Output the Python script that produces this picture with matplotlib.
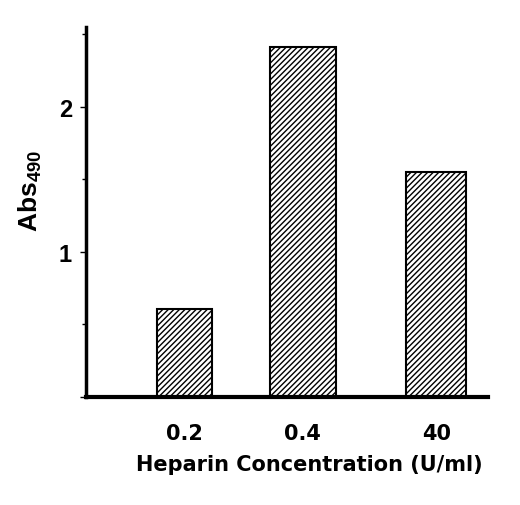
import matplotlib
matplotlib.use("Agg")
import matplotlib.pyplot as plt
from matplotlib.ticker import MultipleLocator

categories = ["0.2", "0.4", "40"]
values = [0.61, 2.41, 1.55]
y_ticks = [0, 1, 2]
y_tick_labels = ["", "1", "2"]

plt.rcParams['font.family'] = ['Liberation Sans', 'DejaVu Sans']
plt.rcParams['hatch.linewidth'] = 1.0
plt.rcParams['mathtext.fontset'] = 'custom'
plt.rcParams['mathtext.bf'] = 'Liberation Sans:bold'
plt.rcParams['mathtext.rm'] = 'Liberation Sans'

fig = plt.figure(figsize=(5.2, 5.06), dpi=100)
ax = fig.add_axes([0.1654, 0.2134, 0.9385 - 0.1654, 0.9447 - 0.2134])

positions = [0, 0.94, 2]
widths = [0.44, 0.52, 0.48]
ax.bar(positions, values, width=widths, color='white', edgecolor='black',
       linewidth=1.5, hatch='//////')

ax.set_xlim(-0.783, 2.412)
ax.set_ylim(0, 2.55)

for s in ['top', 'right']:
    ax.spines[s].set_visible(False)
ax.spines['left'].set_linewidth(2.5)
ax.spines['bottom'].set_linewidth(3)

ax.set_yticks(y_ticks)
ax.set_yticklabels(y_tick_labels, fontsize=17, fontweight='bold')
ax.yaxis.set_minor_locator(MultipleLocator(0.5))
ax.tick_params(axis='y', which='major', length=4, width=1, pad=6)
ax.tick_params(axis='y', which='minor', length=3, width=1)

ax.set_xticks(positions)
ax.set_xticklabels(categories, fontsize=15, fontweight='bold', family='DejaVu Sans')
ax.tick_params(axis='x', length=0, pad=19)

ax.set_xlabel("Heparin Concentration (U/ml)", fontsize=15, fontweight='bold',
              family='DejaVu Sans')
ax.xaxis.set_label_coords(0.555, -0.155)
ax.set_ylabel(r"Abs$_{\mathbf{490}}$", fontsize=19, fontweight='bold')
ax.yaxis.set_label_coords(-0.105, 0.56)

fig.savefig("out.png", dpi=100)
